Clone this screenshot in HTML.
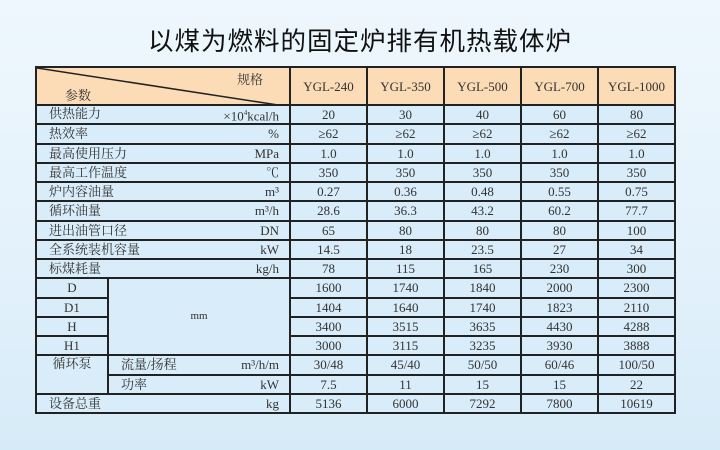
<!DOCTYPE html>
<html><head><meta charset="utf-8"><style>
html,body{margin:0;padding:0}
body{width:720px;height:450px;overflow:hidden;position:relative;background:linear-gradient(180deg,#eef7fd 0%,#e3f1fb 60%,#d6ebf8 100%);font-family:"Liberation Serif","Noto Serif CJK SC",serif;color:#333}
.title{position:absolute;left:0;width:720px;top:21px;text-align:center;font-family:"Liberation Sans","Noto Sans CJK SC",sans-serif;font-size:25.5px;color:#111;letter-spacing:1px}
table{position:absolute;left:35px;top:66px;width:639px;border-collapse:collapse;table-layout:fixed;font-size:13px}
td{border:2px solid #222;background:#d8ecf9;padding:0 6px;height:17.25px;line-height:15px;text-align:center;white-space:nowrap;overflow:hidden}
tr.h td{background:#fbdcb6;height:36px}
td.l{text-align:left;padding-left:12px}
.r{float:right;padding-right:4px}
.diag{position:relative;padding:0}
.diag svg{position:absolute;left:0;top:0}
</style></head><body>
<div class="title">以煤为燃料的固定炉排有机热载体炉</div>
<table>
<colgroup><col style="width:72px"><col style="width:182px"><col style="width:77px"><col style="width:77px"><col style="width:77px"><col style="width:77px"><col style="width:77px"></colgroup>
<tr class="h"><td colspan="2" class="diag"><svg width="254" height="39"><line x1="0" y1="0" x2="254" y2="39" stroke="#222" stroke-width="1.5"/></svg><span style="position:absolute;left:200px;top:4px">规格</span><span style="position:absolute;left:28px;top:20px">参数</span></td><td>YGL-240</td><td>YGL-350</td><td>YGL-500</td><td>YGL-700</td><td>YGL-1000</td></tr>
<tr><td colspan="2" class="l">供热能力<span class="r">×10<sup style="font-size:7px">4</sup>kcal/h</span></td><td>20</td><td>30</td><td>40</td><td>60</td><td>80</td></tr>
<tr><td colspan="2" class="l">热效率<span class="r">%</span></td><td>≥62</td><td>≥62</td><td>≥62</td><td>≥62</td><td>≥62</td></tr>
<tr><td colspan="2" class="l">最高使用压力<span class="r">MPa</span></td><td>1.0</td><td>1.0</td><td>1.0</td><td>1.0</td><td>1.0</td></tr>
<tr><td colspan="2" class="l">最高工作温度<span class="r">℃</span></td><td>350</td><td>350</td><td>350</td><td>350</td><td>350</td></tr>
<tr><td colspan="2" class="l">炉内容油量<span class="r">m³</span></td><td>0.27</td><td>0.36</td><td>0.48</td><td>0.55</td><td>0.75</td></tr>
<tr><td colspan="2" class="l">循环油量<span class="r">m³/h</span></td><td>28.6</td><td>36.3</td><td>43.2</td><td>60.2</td><td>77.7</td></tr>
<tr><td colspan="2" class="l">进出油管口径<span class="r">DN</span></td><td>65</td><td>80</td><td>80</td><td>80</td><td>100</td></tr>
<tr><td colspan="2" class="l">全系统装机容量<span class="r">kW</span></td><td>14.5</td><td>18</td><td>23.5</td><td>27</td><td>34</td></tr>
<tr><td colspan="2" class="l">标煤耗量<span class="r">kg/h</span></td><td>78</td><td>115</td><td>165</td><td>230</td><td>300</td></tr>
<tr><td>D</td><td rowspan="4" style="font-size:11px">mm</td><td>1600</td><td>1740</td><td>1840</td><td>2000</td><td>2300</td></tr>
<tr><td>D1</td><td>1404</td><td>1640</td><td>1740</td><td>1823</td><td>2110</td></tr>
<tr><td>H</td><td>3400</td><td>3515</td><td>3635</td><td>4430</td><td>4288</td></tr>
<tr><td>H1</td><td>3000</td><td>3115</td><td>3235</td><td>3930</td><td>3888</td></tr>
<tr><td rowspan="2" style="vertical-align:top">循环泵</td><td class="l">流量/扬程<span class="r">m³/h/m</span></td><td>30/48</td><td>45/40</td><td>50/50</td><td>60/46</td><td>100/50</td></tr>
<tr><td class="l">功率<span class="r">kW</span></td><td>7.5</td><td>11</td><td>15</td><td>15</td><td>22</td></tr>
<tr><td colspan="2" class="l">设备总重<span class="r">kg</span></td><td>5136</td><td>6000</td><td>7292</td><td>7800</td><td>10619</td></tr>
</table>
</body></html>
